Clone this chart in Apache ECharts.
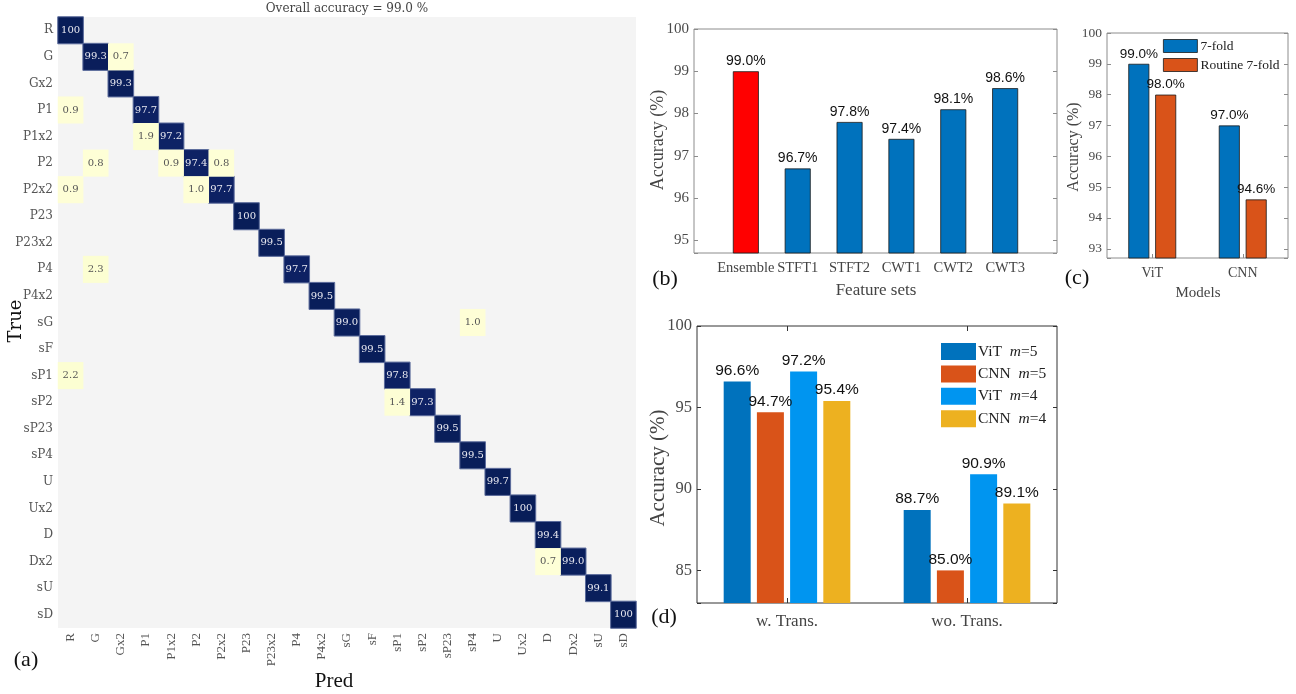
<!DOCTYPE html>
<html><head><meta charset="utf-8">
<script src="https://cdn.jsdelivr.net/npm/echarts@6/dist/echarts.min.js"></script>
<style>html,body{margin:0;padding:0;background:#fff}#c{width:1296px;height:694px}</style>
</head><body><div id="c"></div>
<script>
// ---- Panel (a): confusion matrix ----
const classes = ['R','G','Gx2','P1','P1x2','P2','P2x2','P23','P23x2','P4','P4x2','sG','sF','sP1','sP2','sP23','sP4','U','Ux2','D','Dx2','sU','sD'];
const diagValues = [100,99.3,99.3,97.7,97.2,97.4,97.7,100,99.5,97.7,99.5,99.0,99.5,97.8,97.3,99.5,99.5,99.7,100,99.4,99.0,99.1,100];
const offTrue = ['G','P1','P1x2','P2','P2','P2','P2x2','P2x2','P4','sG','sP1','sP2','Dx2'];
const offPred = ['Gx2','R','P1','G','P1x2','P2x2','R','P2','G','sP4','R','sP1','D'];
const offValues = [0.7,0.9,1.9,0.8,0.9,0.8,0.9,1.0,2.3,1.0,2.2,1.4,0.7];
const overallTitle = 'Overall accuracy = 99.0 %';

// ---- Panel (b): feature sets ----
const featureSets = ['Ensemble','STFT1','STFT2','CWT1','CWT2','CWT3'];
const featureAcc = [99.0,96.7,97.8,97.4,98.1,98.6];

// ---- Panel (c): models ----
const models = ['ViT','CNN'];
const sevenFold = [99.0,97.0];
const routineSevenFold = [98.0,94.6];

// ---- Panel (d): transfer ----
const transGroups = ['w. Trans.','wo. Trans.'];
const vitM5 = [96.6,88.7];
const cnnM5 = [94.7,85.0];
const vitM4 = [97.2,90.9];
const cnnM4 = [95.4,89.1];

const SERIF = '"Liberation Serif", "Times New Roman", serif';
const DSERIF = '"DejaVu Serif", serif';
const SANS = '"Liberation Sans", Arial, sans-serif';
const BLUE = '#0072BD', ORANGE = '#D95319', LBLUE = '#0095F0', YELLOW = '#EDB120', RED = '#FF0000';

const hm = [];
classes.forEach((c, i) => hm.push({
  value: [i, i, diagValues[i]],
  itemStyle: {borderColor: '#5b6b9b', borderWidth: 1},
  label: {color: '#e8e8f0'}
}));
offValues.forEach((v, k) => hm.push({
  value: [classes.indexOf(offPred[k]), classes.indexOf(offTrue[k]), v],
  itemStyle: {borderWidth: 0},
  label: {color: '#555'}
}));

const stepLabel = step => v => {
  const r = Math.round(v / step) * step;
  return Math.abs(v - r) < 1e-6 ? String(r) : '';
};
function valueY(grid, min, max, split, step, fs, right, lineColor) {
  return {
    gridIndex: grid, type: 'value', min: min, max: max, splitNumber: split,
    position: right ? 'right' : 'left',
    axisLine: {show: false},
    axisTick: {show: true, inside: true, length: 4, lineStyle: {color: lineColor}},
    splitLine: {show: false},
    axisLabel: {show: !right, formatter: stepLabel(step), fontFamily: SERIF, fontSize: fs, color: '#4a4a4a', margin: 5}
  };
}
const barLabel = fs => ({show: true, position: 'top', distance: 3, fontFamily: SANS, fontSize: fs, color: '#111',
  formatter: p => (Array.isArray(p.value) ? p.value[1] : p.value).toFixed(1) + '%'});

function txt(text, x, y, font, fill, rot) {
  return {type: 'text', x: x, y: y, rotation: rot || 0, silent: true,
    style: {text: text, font: font, fill: fill, align: 'center', verticalAlign: 'middle'}};
}

const option = {
  animation: false,
  backgroundColor: '#fff',
  grid: [
    {left: 58, top: 17, width: 578, height: 611, show: true, backgroundColor: '#f4f4f4', borderWidth: 0},
    {left: 694, top: 29, width: 363, height: 224, show: true, borderColor: '#8c8c8c', borderWidth: 1},
    {left: 1107, top: 33, width: 181, height: 225, show: true, borderColor: '#8c8c8c', borderWidth: 1},
    {left: 697, top: 326, width: 360, height: 277, show: true, borderColor: '#333', borderWidth: 1}
  ],
  xAxis: [
    {gridIndex: 0, type: 'category', data: classes, axisLine: {show: false}, axisTick: {show: false},
      splitLine: {show: false}, splitArea: {show: false},
      axisLabel: {rotate: 90, interval: 0, margin: 5, fontFamily: SERIF, fontSize: 13, color: '#555'}},
    {gridIndex: 1, type: 'value', min: 0, max: 7, interval: 1, axisLine: {show: false}, axisTick: {show: false},
      splitLine: {show: false},
      axisLabel: {formatter: v => featureSets[v - 1] || '', margin: 8, fontFamily: SERIF, fontSize: 14.5, color: '#444'}},
    {gridIndex: 2, type: 'category', data: models, axisLine: {show: false},
      axisTick: {show: true, inside: true, alignWithLabel: true, length: 4, lineStyle: {color: '#8c8c8c'}},
      axisLabel: {margin: 8, fontFamily: SERIF, fontSize: 14, color: '#444'}},
    {gridIndex: 3, type: 'category', data: transGroups, axisLine: {show: false},
      axisTick: {show: true, inside: true, alignWithLabel: true, length: 5, lineStyle: {color: '#333'}},
      axisLabel: {margin: 10, fontFamily: SERIF, fontSize: 17, color: '#444'}},
    {gridIndex: 3, type: 'category', data: transGroups, position: 'top', axisLine: {show: false},
      axisTick: {show: true, inside: true, alignWithLabel: true, length: 5, lineStyle: {color: '#333'}},
      axisLabel: {show: false}}
  ],
  yAxis: [
    {gridIndex: 0, type: 'category', data: classes, inverse: true, axisLine: {show: false}, axisTick: {show: false},
      splitLine: {show: false}, splitArea: {show: false},
      axisLabel: {interval: 0, margin: 5, fontFamily: DSERIF, fontSize: 12, color: '#555'}},
    valueY(1, 94.7, 100, 5, 1, 15, false, '#8c8c8c'),
    valueY(1, 94.7, 100, 5, 1, 15, true, '#8c8c8c'),
    valueY(2, 92.7, 100, 7, 1, 13.5, false, '#8c8c8c'),
    valueY(2, 92.7, 100, 7, 1, 13.5, true, '#8c8c8c'),
    valueY(3, 83, 100, 3, 5, 16.5, false, '#333'),
    valueY(3, 83, 100, 3, 5, 16.5, true, '#333')
  ],
  visualMap: {
    show: false, seriesIndex: 0, dimension: 2, min: 0, max: 100,
    inRange: {color: ['#ffffd9','#edf8b1','#c7e9b4','#7fcdbb','#41b6c4','#1d91c0','#225ea8','#253494','#081d58']}
  },
  legend: [
    {data: ['7-fold', 'Routine 7-fold'], left: 1163, top: 39, orient: 'vertical', padding: 0,
      itemWidth: 34, itemHeight: 13, itemGap: 5, icon: 'rect',
      itemStyle: {borderWidth: 0.8, borderColor: '#1a1a1a'},
      textStyle: {fontFamily: SERIF, fontSize: 13.5, color: '#222', padding: [0, 0, 0, -2]}},
    {data: ['ViT m=5', 'CNN m=5', 'ViT m=4', 'CNN m=4'], left: 941, top: 343, orient: 'vertical', padding: 0,
      itemWidth: 35, itemHeight: 17, itemGap: 5.4, icon: 'rect',
      formatter: name => { const p = name.split(' '); return p[0] + '  {i|' + p[1].charAt(0) + '}=' + p[1].slice(2); },
      textStyle: {fontFamily: SERIF, fontSize: 15.5, color: '#222', padding: [0, 0, 0, -3],
        rich: {i: {fontFamily: SERIF, fontStyle: 'italic', fontSize: 15.5, color: '#222'}}}}
  ],
  series: [
    {type: 'heatmap', xAxisIndex: 0, yAxisIndex: 0, data: hm,
      label: {show: true, fontFamily: DSERIF, fontSize: 10,
        formatter: p => { const v = p.value[2]; return v === 100 ? '100' : v.toFixed(1); }}},
    {type: 'bar', name: 'Feature sets', xAxisIndex: 1, yAxisIndex: 1, barWidth: 26,
      itemStyle: {borderColor: '#1a1a1a', borderWidth: 0.8},
      label: barLabel(14),
      data: featureAcc.map((v, i) => ({value: [i + 1, v], itemStyle: {color: i === 0 ? RED : BLUE}}))},
    {type: 'bar', name: '7-fold', xAxisIndex: 2, yAxisIndex: 3, barWidth: 21, barGap: '28%',
      itemStyle: {color: BLUE, borderColor: '#1a1a1a', borderWidth: 0.8}, label: barLabel(13.5), data: sevenFold},
    {type: 'bar', name: 'Routine 7-fold', xAxisIndex: 2, yAxisIndex: 3, barWidth: 21, barGap: '28%',
      itemStyle: {color: ORANGE, borderColor: '#1a1a1a', borderWidth: 0.8}, label: barLabel(13.5), data: routineSevenFold},
    {type: 'bar', name: 'ViT m=5', xAxisIndex: 3, yAxisIndex: 5, barWidth: 27, barGap: '23%',
      itemStyle: {color: BLUE}, label: barLabel(15.5), data: vitM5},
    {type: 'bar', name: 'CNN m=5', xAxisIndex: 3, yAxisIndex: 5, barWidth: 27, barGap: '23%',
      itemStyle: {color: ORANGE}, label: barLabel(15.5), data: cnnM5},
    {type: 'bar', name: 'ViT m=4', xAxisIndex: 3, yAxisIndex: 5, barWidth: 27, barGap: '23%',
      itemStyle: {color: LBLUE}, label: barLabel(15.5), data: vitM4},
    {type: 'bar', name: 'CNN m=4', xAxisIndex: 3, yAxisIndex: 5, barWidth: 27, barGap: '23%',
      itemStyle: {color: YELLOW}, label: barLabel(15.5), data: cnnM4}
  ],
  graphic: [
    txt(overallTitle, 347, 9, '12px ' + DSERIF, '#444'),
    txt('True', 16, 321, '18px ' + DSERIF, '#111', Math.PI / 2),
    txt('Pred', 334, 681, '21px ' + SERIF, '#111'),
    txt('(a)', 26, 660, '22px ' + SERIF, '#111'),
    txt('(b)', 665, 279, '22px ' + SERIF, '#111'),
    txt('(c)', 1077, 278, '22px ' + SERIF, '#111'),
    txt('(d)', 664, 617, '22px ' + SERIF, '#111'),
    txt('Feature sets', 876, 291, '17px ' + SERIF, '#444'),
    txt('Models', 1198, 293, '15px ' + SERIF, '#444'),
    txt('Accuracy (%)', 658, 140, '18px ' + SERIF, '#444', Math.PI / 2),
    txt('Accuracy (%)', 1074, 147, '16px ' + SERIF, '#444', Math.PI / 2),
    txt('Accuracy (%)', 658, 468, '21px ' + SERIF, '#444', Math.PI / 2)
  ]
};
const chart = echarts.init(document.getElementById('c'), null, {renderer: 'canvas'});
chart.setOption(option);
</script>
</body></html>
